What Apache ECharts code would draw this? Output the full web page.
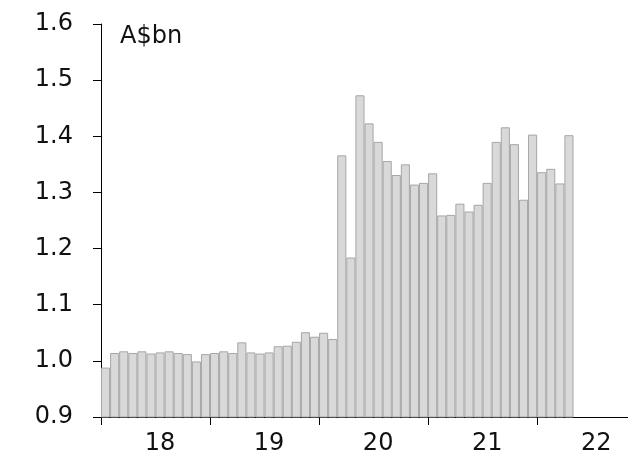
<!DOCTYPE html>
<html>
<head>
<meta charset="utf-8">
<script src="https://cdn.jsdelivr.net/npm/echarts@6/dist/echarts.min.js"></script>
<style>html,body{margin:0;padding:0;background:#fff;}#c{width:628px;height:468px;}</style>
</head>
<body>
<div id="c"></div>
<script>
// Monthly values, Jan 2018 – Apr 2022 (A$bn)
const years = ['2018', '2019', '2020', '2021', '2022'];
const yearTickLabels = ['18', '19', '20', '21', '22'];
const values2018 = [0.988, 1.014, 1.017, 1.014, 1.017, 1.013, 1.015, 1.017, 1.014, 1.012, 0.999, 1.012];
const values2019 = [1.014, 1.017, 1.014, 1.033, 1.015, 1.013, 1.015, 1.026, 1.027, 1.034, 1.051, 1.043];
const values2020 = [1.050, 1.039, 1.366, 1.184, 1.473, 1.423, 1.390, 1.356, 1.331, 1.350, 1.314, 1.317];
const values2021 = [1.334, 1.259, 1.260, 1.280, 1.266, 1.278, 1.317, 1.390, 1.416, 1.386, 1.287, 1.403];
const values2022 = [1.336, 1.342, 1.316, 1.402];
const yTicks = [0.9, 1.0, 1.1, 1.2, 1.3, 1.4, 1.5, 1.6];

const monthsPerYear = 12;
const axisMonths = 58; // axis runs past the last bar (Jan 2018 – Oct 2022)
const values = [].concat(values2018, values2019, values2020, values2021, values2022);
const categories = [];
years.forEach(y => { for (let m = 1; m <= 12; m++) categories.push(y + '-' + String(m).padStart(2, '0')); });
const cats = categories.slice(0, axisMonths);

const FONT = 'DejaVu Sans';
const chart = echarts.init(document.getElementById('c'), null, {renderer: 'canvas'});
chart.setOption({
  animation: false,
  backgroundColor: '#fff',
  grid: {left: 101, right: 0, top: 24, bottom: 51, containLabel: false},
  xAxis: {
    type: 'category',
    data: cats,
    boundaryGap: true,
    axisLine: {show: true, lineStyle: {color: '#000', width: 1}},
    axisTick: {show: true, length: 8, lineStyle: {color: '#000'},
      interval: function (i) { return i % monthsPerYear === 0; }},
    axisLabel: {
      interval: function (i) { return i % monthsPerYear === 6; },
      formatter: function (v, i) { return yearTickLabels[Math.floor(i / monthsPerYear)]; },
      color: '#111', fontFamily: FONT, fontSize: 24, margin: 15
    },
    splitLine: {show: false}
  },
  yAxis: {
    type: 'value',
    min: yTicks[0], max: yTicks[yTicks.length - 1], interval: 0.1,
    axisLine: {show: true, lineStyle: {color: '#000', width: 1}},
    axisTick: {show: true, length: 8, lineStyle: {color: '#000'}},
    axisLabel: {color: '#111', fontFamily: FONT, fontSize: 24, margin: 28,
      formatter: function (v) { return v.toFixed(1); }},
    splitLine: {show: false}
  },
  graphic: [{
    type: 'text', left: 120, top: 25,
    style: {text: 'A$bn', fill: '#111', font: '24px "' + FONT + '"'}
  }],
  series: [{
    type: 'bar',
    data: values,
    barCategoryGap: '0%',
    itemStyle: {color: '#d9d9d9', borderColor: '#a6a6a6', borderWidth: 1}
  }]
});
</script>
</body>
</html>
